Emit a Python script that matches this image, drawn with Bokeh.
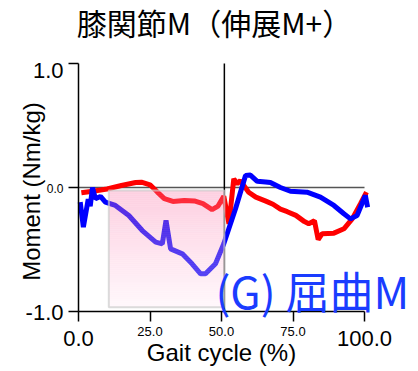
import numpy as np
from bokeh.plotting import figure
from bokeh.models import Range1d, Label, FixedTicker
from bokeh.embed import file_html
from bokeh.resources import INLINE

# Knee joint moment over the gait cycle (Nm/kg)
red_x = [1.0, 5.0, 10.0, 15.0, 20.0, 22.0, 25.0, 27.5, 30.0, 33.0, 37.0, 40.5,
         43.5, 46.7, 48.8, 50.8, 52.6, 54.3, 55.5, 56.6, 57.8, 59.5, 62.0, 65.5,
         68.0, 70.6, 73.0, 76.0, 79.0, 80.5, 82.5, 83.8, 85.2, 89.3, 92.8, 95.7,
         98.6, 100.7]
red_y = [-0.043, -0.03, -0.012, 0.016, 0.04, 0.043, 0.022, -0.035, -0.09, -0.112,
         -0.105, -0.108, -0.13, -0.178, -0.15, -0.07, -0.293, 0.07, 0.03, 0.056,
         0.016, -0.038, -0.078, -0.11, -0.135, -0.175, -0.195, -0.225, -0.275,
         -0.292, -0.268, -0.42, -0.372, -0.368, -0.333, -0.253, -0.131, -0.038]

blue_x = [0.6, 1.7, 3.4, 4.1, 4.9, 5.9, 7.7, 9.4, 12.9, 17.6, 22.3, 27.0, 29.3,
          30.6, 32.2, 36.3, 39.7, 42.7, 44.4, 47.9, 50.8, 54.9, 58.4, 60.1, 62.5,
          65.4, 67.1, 70.6, 74.1, 79.9, 84.6, 89.3, 92.8, 95.1, 97.4, 100.3, 101.1]
blue_y = [-0.118, -0.32, -0.095, -0.15, 0.0, -0.09, -0.072, -0.118, -0.145,
          -0.226, -0.347, -0.44, -0.454, -0.266, -0.495, -0.535, -0.615, -0.696,
          -0.696, -0.615, -0.454, -0.172, 0.097, 0.1, 0.05, 0.045, 0.04, 0.0,
          -0.03, -0.038, -0.078, -0.145, -0.212, -0.253, -0.226, -0.065, -0.159]

x_ticks = [0, 25, 50, 75, 100]
x_tick_labels = ["0.0", "25.0", "50.0", "75.0", "100.0"]
y_ticks = [-1, 0, 1]
y_tick_labels = ["-1.0", "0.0", "1.0"]

phase_line_x = 51          # stance / swing boundary
shade_x = [10.6, 51.0]     # highlighted flexion interval
shade_y = [-0.965, -0.025]

title_text = "膝関節M（伸展M+）"
note_text = "(G) 屈曲M"
x_title = "Gait cycle (%)"
y_title = "Moment (Nm/kg)"

LATIN = "Liberation Sans"
CJK = "Noto Sans CJK JP"

# canvas geometry: the plotting frame fills the whole canvas and the axes
# are pinned inside it, so every label can sit around the data area
W, H = 418, 371
left_px, right_px = 78, 364      # pixel columns of x = 0 and x = 100
top_px, bottom_px = 63, 311      # pixel rows of y = 1 and y = -1
sx = (right_px - left_px) / 100.0
sy = (bottom_px - top_px) / 2.0
x_rng = Range1d(-left_px / sx, (W - left_px) / sx)
y_rng = Range1d(-1 - (H - bottom_px) / sy, 1 + top_px / sy)

p = figure(width=W, height=H, output_backend="svg", toolbar_location=None,
           x_range=x_rng, y_range=y_rng,
           min_border_left=0, min_border_right=0, min_border_top=0,
           min_border_bottom=0)
p.outline_line_color = None
p.grid.visible = False
p.background_fill_color = "white"
p.border_fill_color = "white"

p.xaxis.fixed_location = -1
p.yaxis.fixed_location = 0
p.xaxis.bounds = (0, 100)
p.yaxis.bounds = (-1, 1)
for ax, ticks in ((p.xaxis, x_ticks), (p.yaxis, y_ticks)):
    ax.ticker = FixedTicker(ticks=ticks)
    ax.minor_tick_line_color = None
    ax.major_tick_in = 0
    ax.major_tick_out = 10
    ax.axis_line_width = 1.5
    ax.major_tick_line_width = 1.5
    ax.axis_line_color = "black"
    ax.major_tick_line_color = "black"
    ax.major_label_text_alpha = 0
    ax.major_label_text_font_size = "1px"

# reference lines
p.line([0, 100], [0, 0], line_color="#555555", line_width=1.5)
p.line([phase_line_x, phase_line_x], [-1, 1], line_color="black", line_width=1.5)

# moment curves
p.line(red_x, red_y, line_color="#ff0000", line_width=5)
p.line(blue_x, blue_y, line_color="#0000ff", line_width=5)

# gradient shading drawn as thin horizontal bands over the curves
n = 60
edges = np.linspace(shade_y[1], shade_y[0], n + 1)
top_rgb = np.array([248, 118, 168])
bot_rgb = np.array([255, 232, 244])
cols = []
for i in range(n):
    t = i / (n - 1)
    c = (1 - t) * top_rgb + t * bot_rgb
    cols.append("#%02x%02x%02x" % tuple(int(round(v)) for v in c))
p.quad(left=[shade_x[0]] * n, right=[shade_x[1]] * n, top=edges[:-1],
       bottom=edges[1:], fill_color=cols, fill_alpha=0.35, line_color=None)
p.quad(left=[shade_x[0]], right=[shade_x[1]], top=[shade_y[1]],
       bottom=[shade_y[0]], fill_color=None, line_color="#cccccc",
       line_width=2, line_alpha=0.7)

# tick labels: end ticks large, inner ticks small
for v, s in zip(x_ticks, x_tick_labels):
    big = v in (x_ticks[0], x_ticks[-1])
    p.add_layout(Label(x=v, y=-1, text=s, text_align="center",
                       text_baseline="middle",
                       y_offset=-27 if big else -20,
                       text_font=LATIN,
                       text_font_size="22px" if big else "13px",
                       text_color="black"))
for v, s in zip(y_ticks, y_tick_labels):
    big = v != 0
    p.add_layout(Label(x=0, y=v, text=s, text_align="right",
                       text_baseline="middle", x_offset=-15,
                       y_offset=-6.5 if v == y_ticks[-1] else -1,
                       text_font=LATIN,
                       text_font_size="22px" if big else "12px",
                       text_color="black"))

# axis titles
p.add_layout(Label(x=50, y=-1, text=x_title, text_align="center",
                   text_baseline="middle", y_offset=-41, text_font=LATIN,
                   text_font_size="24px", text_color="black"))
p.add_layout(Label(x=0, y=0, text=y_title, text_align="center",
                   text_baseline="middle", x_offset=-47, y_offset=-4,
                   angle=np.pi / 2, text_font=LATIN, text_font_size="24px",
                   text_color="black"))

# chart title
p.add_layout(Label(x=0, y=1, text=title_text, text_align="center",
                   text_baseline="middle", x_offset=136, y_offset=42,
                   text_font=CJK, text_font_size="30px", text_color="black"))

# panel note
p.add_layout(Label(x=47.9, y=-0.83, text=note_text, text_align="left",
                   text_baseline="middle", text_font=CJK,
                   text_font_size="44px", text_color="#1a3cff"))

open("out.html", "w").write(file_html(p, INLINE))
